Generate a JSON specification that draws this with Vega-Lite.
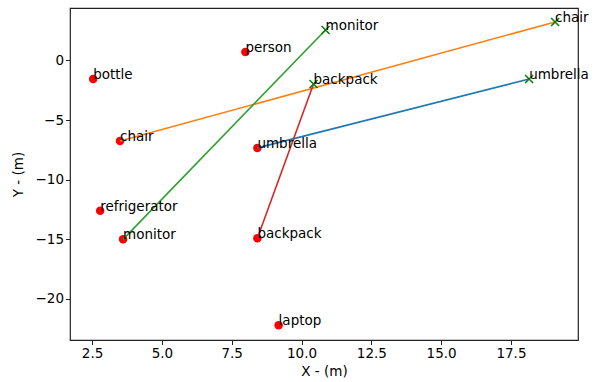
{
  "$schema": "https://vega.github.io/schema/vega-lite/v6.json",
  "width": 508,
  "height": 332,
  "autosize": {"type": "none"},
  "padding": {"left": 70, "top": 8, "right": 17, "bottom": 42},
  "background": "white",
  "config": {
    "view": {"stroke": "#222", "strokeWidth": 1.2},
    "font": "DejaVu Sans",
    "axis": {
      "domain": false,
      "grid": false,
      "tickColor": "#222",
      "tickSize": 4.5,
      "tickWidth": 1,
      "labelFont": "DejaVu Sans",
      "labelFontSize": 13.5,
      "labelColor": "#000",
      "titleFont": "DejaVu Sans",
      "titleFontSize": 13.5,
      "titleFontWeight": "normal",
      "titleColor": "#000"
    }
  },
  "datasets": {
    "pts": [
      {"label": "bottle", "x": 2.54, "y": -1.56, "kind": "obs"},
      {"label": "person", "x": 7.99, "y": 0.71, "kind": "obs"},
      {"label": "chair", "x": 3.5, "y": -6.75, "kind": "obs"},
      {"label": "umbrella", "x": 8.42, "y": -7.33, "kind": "obs"},
      {"label": "refrigerator", "x": 2.79, "y": -12.6, "kind": "obs"},
      {"label": "monitor", "x": 3.61, "y": -15.0, "kind": "obs"},
      {"label": "backpack", "x": 8.42, "y": -14.9, "kind": "obs"},
      {"label": "laptop", "x": 9.18, "y": -22.2, "kind": "obs"},
      {"label": "monitor", "x": 10.86, "y": 2.56, "kind": "est"},
      {"label": "chair", "x": 19.08, "y": 3.23, "kind": "est"},
      {"label": "backpack", "x": 10.43, "y": -1.97, "kind": "est"},
      {"label": "umbrella", "x": 18.15, "y": -1.55, "kind": "est"}
    ],
    "tracks": [
      {"track": "umbrella", "x": 8.42, "y": -7.33},
      {"track": "umbrella", "x": 18.15, "y": -1.55},
      {"track": "chair", "x": 3.5, "y": -6.75},
      {"track": "chair", "x": 19.08, "y": 3.23},
      {"track": "monitor", "x": 3.61, "y": -15.0},
      {"track": "monitor", "x": 10.86, "y": 2.56},
      {"track": "backpack", "x": 8.42, "y": -14.9},
      {"track": "backpack", "x": 10.43, "y": -1.97}
    ]
  },
  "encoding": {
    "x": {
      "field": "x", "type": "quantitative",
      "scale": {"domain": [1.71, 19.9], "nice": false, "zero": false},
      "axis": {"title": "X - (m)", "values": [2.5, 5, 7.5, 10, 12.5, 15, 17.5], "format": ".1f", "titlePadding": 4}
    },
    "y": {
      "field": "y", "type": "quantitative",
      "scale": {"domain": [-23.44, 4.4], "nice": false, "zero": false},
      "axis": {"title": "Y - (m)", "values": [0, -5, -10, -15, -20], "format": "d", "titlePadding": 10}
    }
  },
  "layer": [
    {
      "data": {"name": "pts"},
      "transform": [{"filter": "datum.kind == 'obs'"}],
      "mark": {"type": "point", "shape": "circle", "filled": true, "color": "#ff0000", "opacity": 1, "size": 72}
    },
    {
      "data": {"name": "tracks"},
      "mark": {"type": "line", "strokeWidth": 1.6},
      "encoding": {
        "color": {
          "field": "track", "type": "nominal", "legend": null,
          "scale": {"domain": ["umbrella", "chair", "monitor", "backpack"], "range": ["#1f77b4", "#ff7f0e", "#2ca02c", "#d62728"]}
        },
        "order": {"field": "x", "type": "quantitative"}
      }
    },
    {
      "data": {"name": "pts"},
      "transform": [{"filter": "datum.kind == 'est'"}],
      "mark": {"type": "point", "shape": "M-1,-1L1,1M-1,1L1,-1", "filled": false, "stroke": "#008000", "strokeWidth": 1.5, "opacity": 1, "size": 64}
    },
    {
      "data": {"name": "pts"},
      "mark": {"type": "text", "align": "left", "baseline": "alphabetic", "font": "DejaVu Sans", "fontSize": 13.5, "color": "#000"},
      "encoding": {"text": {"field": "label"}}
    }
  ]
}
